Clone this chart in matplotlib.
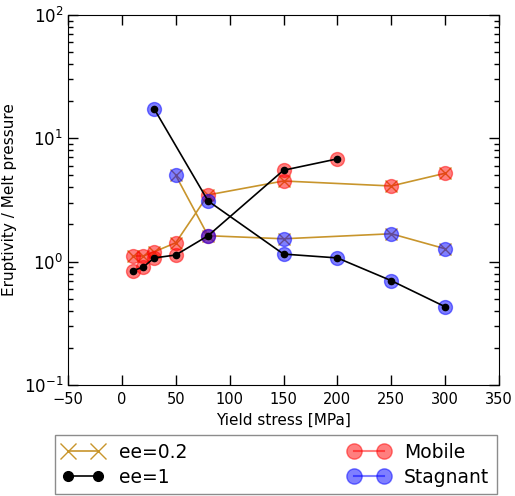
import matplotlib
matplotlib.use('Agg')
import matplotlib.pyplot as plt
from matplotlib.lines import Line2D

# yield stress [MPa] and eruptivity / melt pressure, split by regime
ys_mob_02 = [10, 20, 30, 50, 80, 150, 250, 300]
er_mob_02 = [1.11, 1.11, 1.2, 1.42, 3.47, 4.5, 4.1, 5.2]
ys_stag_02 = [50, 80, 150, 250, 300]
er_stag_02 = [5.0, 1.62, 1.53, 1.68, 1.27]

ys_mob_1 = [10, 20, 30, 50, 80, 150, 200]
er_mob_1 = [0.84, 0.905, 1.07, 1.13, 1.62, 5.5, 6.8]
ys_stag_1 = [30, 80, 150, 200, 250, 300]
er_stag_1 = [17.3, 3.1, 1.15, 1.07, 0.70, 0.43]

gold = '#c8952c'

plt.rcParams['font.size'] = 11
plt.rcParams['xtick.direction'] = 'in'
plt.rcParams['ytick.direction'] = 'in'
plt.rcParams['xtick.top'] = True
plt.rcParams['ytick.right'] = True

fig = plt.figure(figsize=(5.15, 4.96), dpi=100)
ax = fig.add_axes([0.132, 0.224, 0.837, 0.746])

# ee = 0.2
ax.plot(ys_mob_02, er_mob_02, '-x', color=gold, ms=8, mew=1, lw=1.2, zorder=1)
ax.plot(ys_stag_02, er_stag_02, '-x', color=gold, ms=8, mew=1, lw=1.2, zorder=1)

# regime circles
for xs, ys in [(ys_mob_02, er_mob_02), (ys_mob_1, er_mob_1)]:
    ax.plot(xs, ys, 'o', color='red', mec='red', alpha=0.5, ms=10, zorder=2)
for xs, ys in [(ys_stag_02, er_stag_02), (ys_stag_1, er_stag_1)]:
    ax.plot(xs, ys, 'o', color='blue', mec='blue', alpha=0.5, ms=10, zorder=2)

# ee = 1
ax.plot(ys_mob_1, er_mob_1, '-o', color='black', ms=4.5, lw=1.2, zorder=3)
ax.plot(ys_stag_1, er_stag_1, '-o', color='black', ms=4.5, lw=1.2, zorder=3)

ax.set_yscale('log')
ax.set_xlim(-50, 350)
ax.set_ylim(0.1, 100)
ax.set_xticks(range(-50, 351, 50))
ax.tick_params(which='major', length=7, width=1)
ax.tick_params(which='minor', length=3.5, width=1)
ax.tick_params(axis='x', labelsize=10.5, pad=5)
ax.tick_params(axis='y', labelsize=12)
ax.set_xlabel('Yield stress [MPa]', fontsize=11)
ax.set_ylabel('Eruptivity / Melt pressure', fontsize=11)
ax.yaxis.set_label_coords(-0.118, 0.5)

handles = [
    Line2D([], [], color=gold, marker='x', ms=12, mew=1, lw=1.2),
    Line2D([], [], color='black', marker='o', ms=7, lw=1.2),
    Line2D([], [], color='red', marker='o', mec='red', alpha=0.5, ms=11),
    Line2D([], [], color='blue', marker='o', mec='blue', alpha=0.5, ms=11),
]
labels = ['ee=0.2', 'ee=1', 'Mobile', 'Stagnant']
leg = fig.legend(handles, labels, ncol=2, mode='expand', numpoints=2,
                 bbox_to_anchor=(0.107, 0.004, 0.858, 0.119),
                 bbox_transform=fig.transFigure, loc='lower left',
                 borderaxespad=0, fontsize=13.5, handlelength=2.2,
                 fancybox=False, framealpha=1, labelspacing=0.3)
leg.get_frame().set_edgecolor('0.55')

fig.savefig('out.png', dpi=100)
